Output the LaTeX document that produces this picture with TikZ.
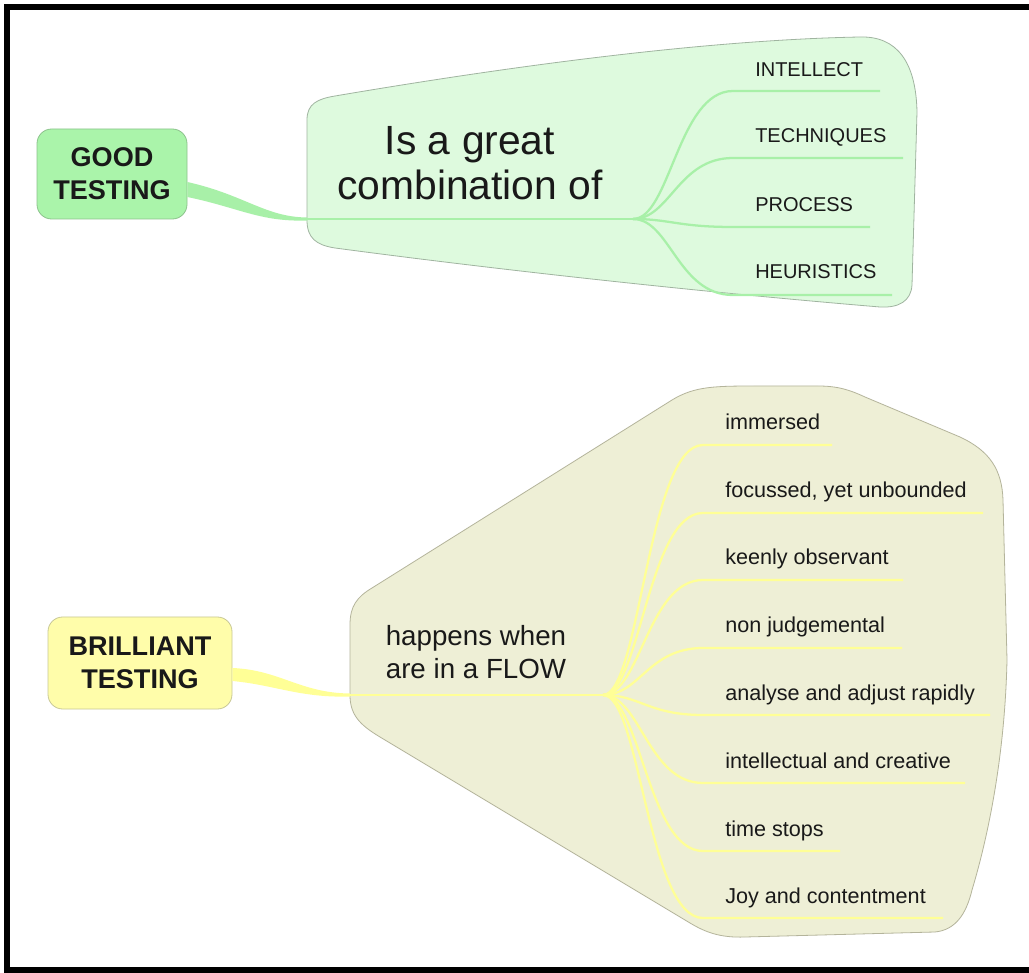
\documentclass[tikz,border=0pt]{standalone}
\usepackage{fontspec}
\setmainfont{Liberation Sans}
\usetikzlibrary{calc}
\definecolor{gfill}{RGB}{222,250,222}
\definecolor{gdraw}{RGB}{160,180,160}
\definecolor{gline}{RGB}{168,240,168}
\definecolor{gbox}{RGB}{170,244,170}
\definecolor{gboxdraw}{RGB}{140,195,140}
\definecolor{yfill}{RGB}{238,239,214}
\definecolor{ydraw}{RGB}{180,180,155}
\definecolor{yline}{RGB}{255,255,150}
\definecolor{ybox}{RGB}{255,253,170}
\definecolor{yboxdraw}{RGB}{200,200,150}
\definecolor{txt}{RGB}{25,25,25}
\begin{document}
\begin{tikzpicture}[x=0.75pt,y=-0.75pt,
  topicbox/.style={draw, rounded corners=11pt, line width=0.6pt, align=center,
    font=\fontsize{20.3pt}{24.75pt}\selectfont\bfseries, text=txt, inner sep=0pt},
  gchild/.style={anchor=base west, font=\fontsize{15pt}{18pt}\selectfont, text=txt, inner sep=0pt},
  ychild/.style={anchor=base west, font=\fontsize{16.2pt}{19pt}\selectfont, text=txt, inner sep=0pt},
  gbranch/.style={draw=gline, line width=1.7pt},
  ybranch/.style={draw=yline, line width=1.7pt},
  callout/.style={line width=0.6pt}]
\useasboundingbox (0,0) rectangle (1029,973);
\fill[white] (0,0) rectangle (1029,973);
% frame
\fill[black] (4,4) rectangle (1029,10);
\fill[black] (4,4) rectangle (10,973);
\fill[black] (4,967) rectangle (1029,973);

% ---------- GOOD TESTING ----------
\path[callout, fill=gfill, draw=gdraw]
  (307,120) .. controls (307,104) and (317,99) .. (335,96)
  .. controls (500,68) and (700,40) .. (860,37)
  .. controls (897,36) and (916,62) .. (917,112)
  -- (912,285) .. controls (911,301) and (899,308) .. (880,307)
  .. controls (700,292) and (500,270) .. (335,248)
  .. controls (316,245) and (307,238) .. (307,220) -- cycle;

\node[topicbox, fill=gbox, draw=gboxdraw, minimum width=112.5pt, minimum height=67.5pt]
  (good) at (112,174) {GOOD\\TESTING};
\node[align=center, font=\fontsize{30.6pt}{33.75pt}\selectfont, text=txt, inner sep=0pt]
  (gmain) at (470,163) {Is a great\\combination of};

\coordinate (gin) at (307,219);
\coordinate (gj) at (633,219);
\fill[gline] ($(good.east)+(0,8)$) .. controls (245,195) and (265,217) .. ($(gin)+(0,-1.5)$)
  -- ($(gin)+(0,1.5)$) .. controls (260,222) and (240,208) .. ($(good.east)+(0,23)$) -- cycle;
\draw[gbranch] (gin) -- (gj);

\node[gchild] (g1) at (755,77) {INTELLECT};
\node[gchild] (g2) at (755,143) {TECHNIQUES};
\node[gchild] (g3) at (755,212) {PROCESS};
\node[gchild] (g4) at (755,279) {HEURISTICS};
\coordinate (gu1) at (880,91);
\coordinate (gu2) at (903,158);
\coordinate (gu3) at (870,227);
\coordinate (gu4) at (892,295);
\foreach \u in {gu1,gu2,gu3,gu4}{
  \draw[gbranch] (gj) .. controls ($(gj)+(37,0)$) and ($(\u -| gj)+(45,0)$)
    .. ($(\u -| gj)+(100,0)$) -- (\u);
}

% ---------- BRILLIANT TESTING ----------
\path[callout, fill=yfill, draw=ydraw]
  (350,625) .. controls (350,606) and (357,597) .. (372,588)
  -- (672,400) .. controls (695,386) and (715,386) .. (760,386)
  -- (818,386) .. controls (838,386) and (850,390) .. (865,397)
  -- (960,437) .. controls (990,451) and (1002,470) .. (1003,500)
  .. controls (1005,580) .. (1007,660)
  .. controls (1005,750) and (990,830) .. (972,890)
  .. controls (966,915) and (955,930) .. (935,932)
  -- (745,937) .. controls (720,938) and (705,932) .. (690,923)
  -- (380,737) .. controls (360,725) and (350,715) .. (350,695) -- cycle;

\node[topicbox, fill=ybox, draw=yboxdraw, minimum width=138pt, minimum height=69pt]
  (bril) at (140,663) {BRILLIANT\\TESTING};
\node[align=center, font=\fontsize{20.8pt}{24.75pt}\selectfont, text=txt, inner sep=0pt]
  (ymain) at (476,652) {happens when\\are in a FLOW};

\coordinate (yin) at (350,695);
\coordinate (yj) at (603,695);
\fill[yline] ($(bril.east)+(0,5)$) .. controls (280,670) and (300,693) .. ($(yin)+(0,-1.5)$)
  -- ($(yin)+(0,1.5)$) .. controls (300,698) and (275,685) .. ($(bril.east)+(0,18)$) -- cycle;
\draw[ybranch] (yin) -- (yj);

\node[ychild] (y1) at (725,430) {immersed};
\node[ychild] (y2) at (725,498) {focussed, yet unbounded};
\node[ychild] (y3) at (725,565) {keenly observant};
\node[ychild] (y4) at (725,633) {non judgemental};
\node[ychild] (y5) at (725,700) {analyse and adjust rapidly};
\node[ychild] (y6) at (725,768) {intellectual and creative};
\node[ychild] (y7) at (725,836) {time stops};
\node[ychild] (y8) at (725,903) {Joy and contentment};
\coordinate (yu1) at (832,445);
\coordinate (yu2) at (983,513);
\coordinate (yu3) at (903,580);
\coordinate (yu4) at (902,648);
\coordinate (yu5) at (990,715);
\coordinate (yu6) at (965,783);
\coordinate (yu7) at (840,851);
\coordinate (yu8) at (943,918);
\foreach \u in {yu1,yu2,yu3,yu4,yu5,yu6,yu7,yu8}{
  \draw[ybranch] (yj) .. controls ($(yj)+(37,0)$) and ($(\u -| yj)+(45,0)$)
    .. ($(\u -| yj)+(100,0)$) -- (\u);
}
\end{tikzpicture}
\end{document}
